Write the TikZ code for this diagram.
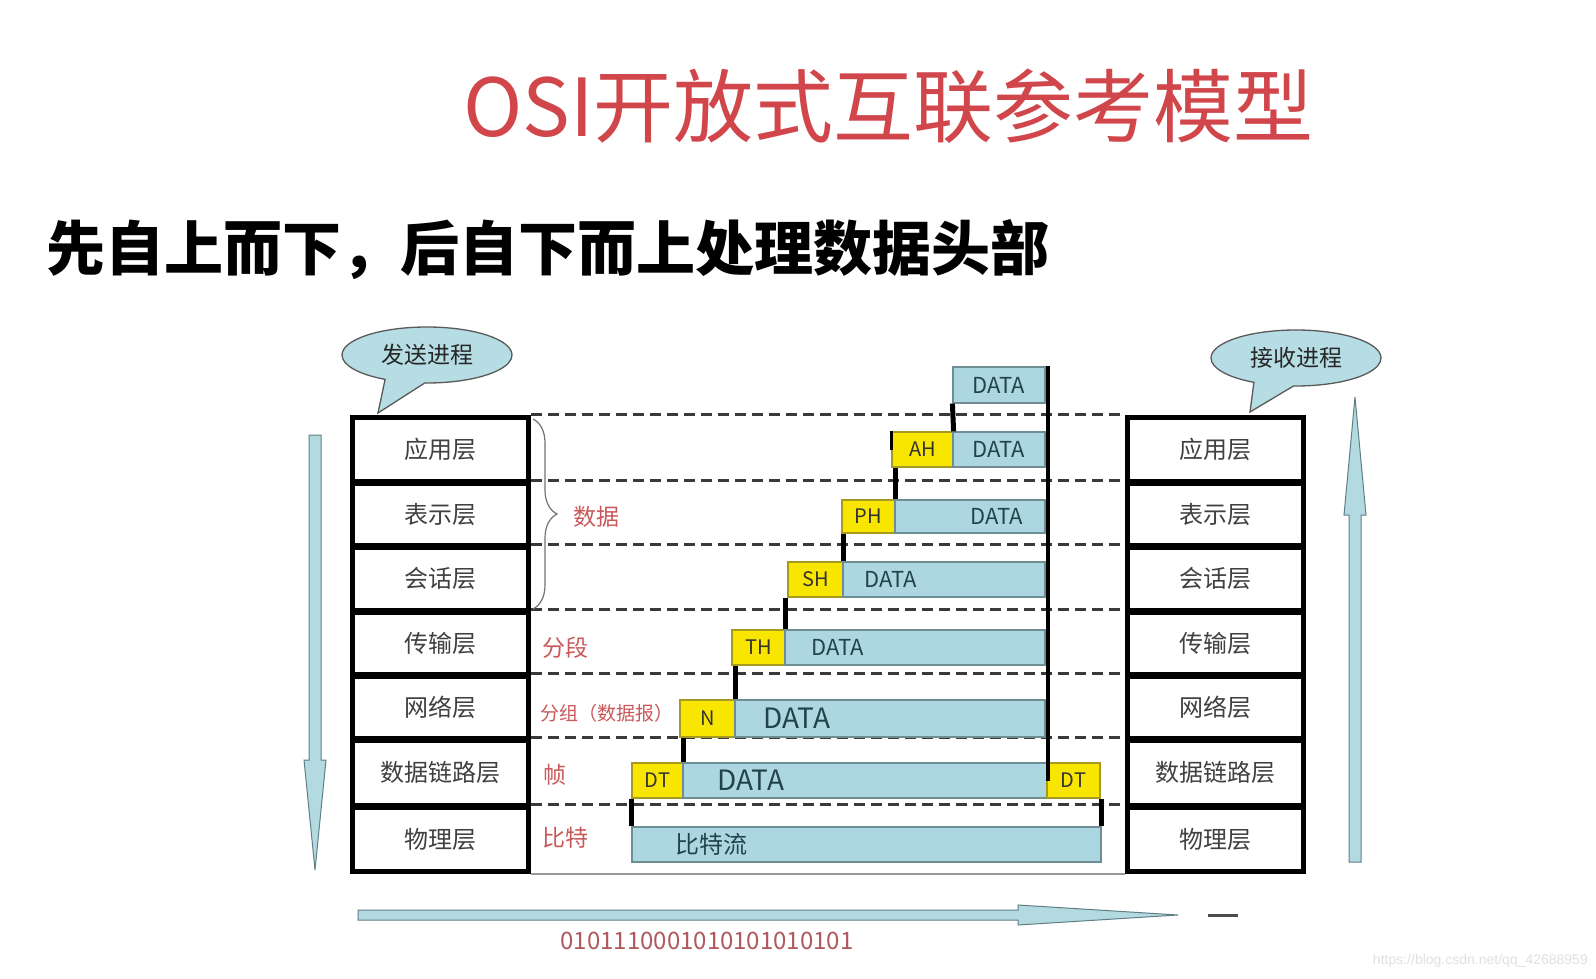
\documentclass[tikz,border=0pt]{standalone}
\usepackage{fontspec}
\setmainfont{Noto Sans CJK SC}
\newfontfamily\wmfont{Liberation Sans}
\usetikzlibrary{shapes.callouts,decorations.pathreplacing}
\definecolor{titlered}{HTML}{D0464A}
\definecolor{labred}{HTML}{C8585A}
\definecolor{bitred}{HTML}{B05A5E}
\definecolor{layertxt}{HTML}{404040}
\definecolor{datafill}{HTML}{ADD7E0}
\definecolor{dataline}{HTML}{6E8E94}
\definecolor{hdrfill}{HTML}{F8E600}
\definecolor{hdrline}{HTML}{A89A20}
\definecolor{bubfill}{HTML}{B6DDE4}
\definecolor{arrfill}{HTML}{B3DAE0}
\definecolor{arrline}{HTML}{5F7F86}
\definecolor{dashcol}{HTML}{3A3A3A}
\definecolor{datatxt}{HTML}{23434C}
\newcommand\fsz[1]{\fontsize{#1pt}{#1pt}\selectfont}
\tikzset{
  layerbox/.style={draw=black, line width=5pt, fill=white, minimum width=176pt, inner sep=0pt, text=layertxt, font=\fsz{24}},
  databox/.style={draw=dataline, line width=1.2pt, fill=datafill, inner sep=0pt, text=datatxt, font=\fsz{22}},
  hdrbox/.style={draw=hdrline, line width=1.2pt, fill=hdrfill, inner sep=0pt, text=black!80, font=\fsz{20}},
  datatext/.style={inner sep=0pt, text=datatxt, font=\fsz{22}},
  link/.style={line width=5pt, black},
  layerline/.style={dashcol, line width=3pt, dash pattern=on 11pt off 6pt},
  redlab/.style={text=labred, font=\fsz{23}, anchor=west, inner sep=0pt},
  bubble/.style={ellipse callout, draw=black!65, line width=1.3pt, fill=bubfill, inner sep=0pt, minimum width=170pt, minimum height=56pt, callout pointer arc=28, font=\fsz{23}, text=black!85},
  flowarrow/.style={draw=arrline, line width=1pt, fill=arrfill}
}
\begin{document}
\begin{tikzpicture}[x=1pt,y=-1pt]
\useasboundingbox (0,0) rectangle (1596,979);
\fill[white] (0,0) rectangle (1596,979);

% titles
\node[anchor=west, text=titlered, font=\fsz{80}, inner sep=0pt] (title) at (463,106) {OSI开放式互联参考模型};
\node[anchor=west, font=\bfseries\fsz{59}, inner sep=0pt] (sub) at (46,250) {先自上而下，后自下而上处理数据头部};

% bubbles
\node[bubble, callout absolute pointer={(378,413)}] (send) at (427,355) {发送进程};
\node[bubble, callout absolute pointer={(1250,412)}] (recv) at (1296,358) {接收进程};

% layer stacks
\foreach \n/\c/\h/\t in {1/449/64/应用层, 2/514/62/表示层, 3/578.5/63/会话层, 4/643/62/传输层, 5/707/62/网络层, 6/772.5/65/数据链路层, 7/839/64/物理层}{
  \node[layerbox, minimum height=\h pt] (L\n) at (440.5,\c) {\t};
  \node[layerbox, minimum height=\h pt] (R\n) at (1215,\c) {\t};
}

% dashed layer lines
\foreach \n in {1,...,7}{
  \draw[layerline] (L\n.north east) -- (R\n.north west);
}
\draw[black!40, line width=2pt] (L7.south east) -- (R7.south west);

% brace and labels
\draw[decorate, decoration={brace, amplitude=24pt}, draw=black!55, line width=1.2pt] (533,419) -- (533,609);
\node[redlab] (lbdata) at (573,517) {数据};
\node[redlab] (lbseg) at (542,648) {分段};
\node[redlab, font=\fsz{19}] (lbpkt) at (540,713) {分组（数据报）};
\node[redlab] (lbfrm) at (543,775) {帧};
\node[redlab] (lbbit) at (542,838) {比特};

% staircase
\node[databox, minimum width=92pt, minimum height=36pt] (d0) at (999,385) {DATA};

\node[hdrbox, minimum width=61pt, minimum height=35pt] (h1) at (922.5,449.5) {AH};
\node[databox, minimum width=92pt, minimum height=35pt] (d1) at (999,449.5) {DATA};

\node[hdrbox, minimum width=53pt, minimum height=33pt] (h2) at (868.5,516.5) {PH};
\node[databox, minimum width=150pt, minimum height=33pt] (d2) at (970,516.5) {};
\node[datatext] (x2) at (997,516.5) {DATA};

\node[hdrbox, minimum width=55pt, minimum height=35pt] (h3) at (815.5,579.5) {SH};
\node[databox, minimum width=202pt, minimum height=35pt] (d3) at (944,579.5) {};
\node[datatext] (x3) at (891,579.5) {DATA};

\node[hdrbox, minimum width=53pt, minimum height=35pt] (h4) at (758.5,647.5) {TH};
\node[databox, minimum width=260pt, minimum height=35pt] (d4) at (915,647.5) {};
\node[datatext] (x4) at (838,647.5) {DATA};

\node[hdrbox, minimum width=55pt, minimum height=37pt] (h5) at (707.5,718.5) {N};
\node[databox, minimum width=310pt, minimum height=37pt] (d5) at (890,718.5) {};
\node[datatext, font=\fsz{28}] (x5) at (797,718.5) {DATA};

\node[hdrbox, minimum width=51pt, minimum height=35pt] (h6) at (657.5,780.5) {DT};
\node[databox, minimum width=364pt, minimum height=35pt] (d6) at (865,780.5) {};
\node[datatext, font=\fsz{28}] (x6) at (751,780.5) {DATA};
\node[hdrbox, minimum width=53pt, minimum height=35pt] (t6) at (1073.5,780.5) {DT};

\node[databox, minimum width=469pt, minimum height=35pt] (b7) at (866.5,844.5) {};
\node[datatext, font=\fsz{24}] (x7) at (711,844.5) {比特流};

% links
\draw[line width=4pt] ([xshift=2pt]d0.north east) -- ([xshift=2pt]d0.north east |- t6.west);
\draw[link] (d0.south west) -- (h1.north east);
\draw[line width=3pt] (h1.north west) -- (h1.west);
\draw[link] (h2.north east) -- (h2.north east |- h1.south);
\draw[link] (h3.north east) -- (h3.north east |- h2.south);
\draw[link] (h4.north east) -- (h4.north east |- h3.south);
\draw[link] (h5.north east) -- (h5.north east |- h4.south);
\draw[link] (h6.north east) -- (h6.north east |- h5.south);
\draw[link] (b7.north west) -- (b7.north west |- h6.south);
\draw[link] (b7.north east) -- (b7.north east |- t6.south);

% flow arrows
\draw[flowarrow] (309,435) -- (321,435) -- (321,760) -- (326,760) -- (315,870) -- (304,760) -- (309,760) -- cycle;
\draw[flowarrow] (1349,862) -- (1361,862) -- (1361,515) -- (1366,515) -- (1355,397) -- (1344,515) -- (1349,515) -- cycle;
\draw[flowarrow] (358,910) -- (1018,910) -- (1018,905) -- (1178,915) -- (1018,925) -- (1018,920) -- (358,920) -- cycle;
\draw[line width=3pt, black!70] (1208,915) -- (1238,915);

\node[text=bitred, font=\fsz{24}, inner sep=0pt] (bits) at (707,941) {0101110001010101010101};

\node[anchor=east, text=black!12, font=\wmfont\fsz{14}, inner sep=0pt] (wm) at (1588,961) {https://blog.csdn.net/qq\_42688959};
\end{tikzpicture}
\end{document}
